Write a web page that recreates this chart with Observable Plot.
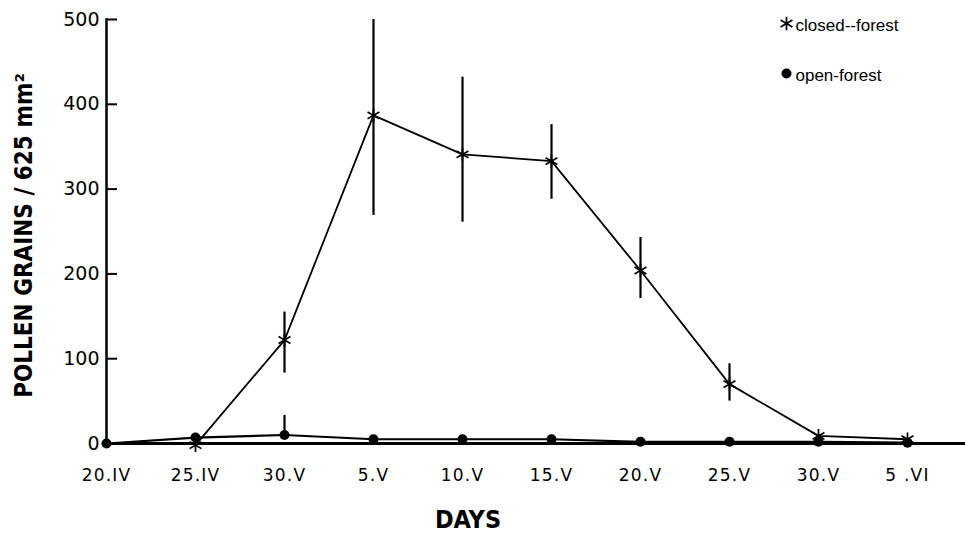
<!DOCTYPE html>
<html><head><meta charset="utf-8">
<script src="https://cdn.jsdelivr.net/npm/d3@7"></script>
<script src="https://cdn.jsdelivr.net/npm/@observablehq/plot@0.6"></script>
<style>
body{margin:0;background:#fff}
g[aria-label="ylabel"] text{letter-spacing:3px;font-stretch:condensed}
g[aria-label="xlabel"] text{letter-spacing:6px;font-stretch:condensed}
g[aria-label="x-axis tick label"] text{letter-spacing:1.2px}
</style>
</head><body><div id="chart"></div>
<script>
const days = ["20.IV","25.IV","30.V","5.V","10.V","15.V","20.V","25.V","30.V","5 .VI"];
const closedForest = [null, -2, 122, 387, 341, 333, 204, 70, 9, 5];
const closedLow    = [null, null, 83, 269, 261, 288, 171, 50, null, null];
const closedHigh   = [null, null, 155, 500, 432, 376, 243, 94, null, null];
const openForest   = [0, 7, 10, 5, 5, 5, 2, 2, 2, 1];
const openLow      = [null, null, 10, null, null, null, null, null, null, null];
const openHigh     = [null, null, 33, null, null, null, null, null, null, null];
const yTicks = [0, 100, 200, 300, 400, 500];
const legendItems = ["closed--forest", "open-forest"];
const yTitle = "POLLEN GRAINS / 625 mm²";
const xTitle = "DAYS";

const closed = days.map((d, i) => ({i, v: closedForest[i], lo: closedLow[i], hi: closedHigh[i]}));
const open = days.map((d, i) => ({i, v: openForest[i], lo: openLow[i], hi: openHigh[i]}));

const condensed = "'DejaVu Sans Condensed', 'DejaVu Sans', sans-serif";

const plot = Plot.plot({
  width: 965,
  height: 534,
  marginLeft: 106,
  marginRight: 0,
  marginTop: 19,
  marginBottom: 91,
  style: {background: "#fff", color: "#000", fontFamily: "DejaVu Sans", overflow: "visible"},
  x: {type: "linear", domain: [0, 9], range: [106, 907]},
  y: {domain: [0, 500]},
  marks: [
    Plot.frame({anchor: "left", strokeWidth: 2.5}),
    Plot.axisY({ticks: yTicks, tickSize: 11, dx: 11, text: null, label: null, strokeWidth: 2}),
    Plot.axisY({ticks: yTicks, tickSize: 0, tickPadding: 7, fontSize: 19, label: null}),
    Plot.axisX({ticks: d3.range(days.length), tickFormat: i => days[i], tickSize: 0, tickPadding: 25, fontSize: 17, label: null}),
    Plot.ruleX(closed.filter(d => d.lo != null), {x: "i", y1: "lo", y2: "hi", strokeWidth: 2.2}),
    Plot.ruleX(open.filter(d => d.lo != null), {x: "i", y1: "lo", y2: "hi", strokeWidth: 2.2}),
    Plot.line(open, {x: "i", y: "v", strokeWidth: 2.2}),
    Plot.line(closed, {x: "i", y: "v", strokeWidth: 1.8}),
    Plot.dot(open, {x: "i", y: "v", r: 5, fill: "#000"}),
    Plot.dot(closed.filter(d => d.v != null), {x: "i", y: "v", symbol: "asterisk", r: 6.5, stroke: "#000", strokeWidth: 1.7}),
    Plot.frame({anchor: "bottom", strokeWidth: 3}),
    // legend
    Plot.dot([legendItems[0]], {frameAnchor: "top-right", dx: -179, dy: 4, symbol: "asterisk", r: 6.5, stroke: "#000", strokeWidth: 1.7}),
    Plot.dot([legendItems[1]], {frameAnchor: "top-right", dx: -179, dy: 54, r: 5, fill: "#000"}),
    Plot.text([legendItems[0]], {frameAnchor: "top-right", lineAnchor: "middle", text: d => d, dx: -170, dy: 6, textAnchor: "start", fontSize: 17, fontFamily: "Liberation Sans"}),
    Plot.text([legendItems[1]], {frameAnchor: "top-right", lineAnchor: "middle", text: d => d, dx: -170, dy: 56, textAnchor: "start", fontSize: 17, fontFamily: "Liberation Sans"}),
    // axis titles
    Plot.text([yTitle], {ariaLabel: "ylabel", frameAnchor: "left", textAnchor: "middle", lineAnchor: "middle", text: d => d, rotate: -90, dx: -82, dy: 4, fontSize: 24, fontWeight: "bold", fontFamily: condensed}),
    Plot.text([xTitle], {ariaLabel: "xlabel", frameAnchor: "bottom", textAnchor: "middle", lineAnchor: "middle", text: d => d, dx: -68, dy: 76, fontSize: 25, fontWeight: "bold", fontFamily: condensed})
  ]
});
document.getElementById("chart").appendChild(plot);
</script>
</body></html>
